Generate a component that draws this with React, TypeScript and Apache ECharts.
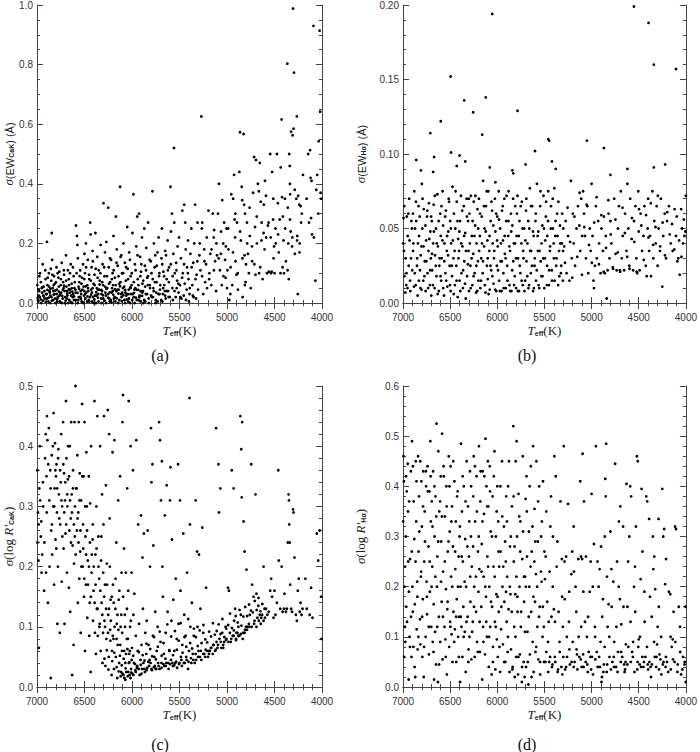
import React, { useEffect, useRef } from 'react';
import * as echarts from 'echarts';

// ---- data: [Teff (K), sigma] ----
const ewCaK: number[][] = [
[6990,0.01],[6985,0.045],[6975,0.09],[6970,0.02],[6960,0.07],[6955,0.0],[6945,0.035],[6940,0.13],[6930,0.055],[6920,0.015],[6910,0.08],[6905,0.03],
[6895,0.205],[6890,0.06],[6880,0.005],[6875,0.1],[6870,0.04],[6860,0.025],[6855,0.115],[6850,0.075],[6845,0.235],[6840,0.145],[6835,0.05],[6830,0.01],[6820,0.09],[6815,0.03],[6810,0.065],[6805,0.0],
[6795,0.12],[6790,0.045],[6780,0.02],[6775,0.085],[6765,0.105],[6760,0.005],[6750,0.06],[6745,0.035],[6740,0.135],[6730,0.015],[6725,0.07],[6715,0.095],[6710,0.04],[6705,0.0],
[6695,0.16],[6690,0.055],[6680,0.025],[6675,0.11],[6665,0.08],[6660,0.01],[6650,0.045],[6645,0.13],[6635,0.065],[6630,0.0],[6620,0.03],[6615,0.09],[6605,0.05],
[6590,0.26],[6580,0.225],[6575,0.195],[6570,0.15],[6560,0.02],[6555,0.07],[6545,0.11],[6540,0.04],[6530,0.005],[6525,0.085],[6515,0.13],[6510,0.055],[6505,0.025],[6500,0.165],
[6495,0.1],[6485,0.2],[6480,0.035],[6470,0.06],[6465,0.145],[6455,0.01],[6450,0.08],[6440,0.27],[6435,0.23],[6430,0.045],[6425,0.12],[6415,0.175],[6410,0.02],[6405,0.065],
[6395,0.095],[6385,0.235],[6380,0.0],[6370,0.05],[6365,0.155],[6355,0.03],[6350,0.11],[6340,0.075],[6330,0.195],[6325,0.015],[6315,0.04],[6310,0.13],[6300,0.335],[6305,0.06],
[6290,0.09],[6285,0.17],[6275,0.025],[6270,0.205],[6260,0.05],[6250,0.32],[6245,0.12],[6235,0.005],[6230,0.07],[6220,0.145],[6215,0.035],[6205,0.1],[6200,0.06],
[6195,0.225],[6190,0.015],[6180,0.085],[6170,0.29],[6165,0.04],[6160,0.18],[6150,0.125],[6145,0.0],[6135,0.065],[6125,0.39],[6120,0.155],[6115,0.03],[6105,0.1],
[6095,0.05],[6090,0.2],[6080,0.01],[6075,0.135],[6065,0.075],[6060,0.025],[6050,0.255],[6045,0.115],[6035,0.045],[6030,0.17],[6020,0.0],[6015,0.09],[6005,0.06],
[5995,0.235],[5985,0.365],[5980,0.02],[5970,0.13],[5965,0.05],[5955,0.19],[5945,0.29],[5940,0.08],[5930,0.01],[5925,0.3],[5915,0.155],[5910,0.04],[5905,0.105],
[5895,0.22],[5890,0.065],[5880,0.0],[5870,0.25],[5865,0.125],[5855,0.03],[5850,0.185],[5840,0.085],[5830,0.27],[5825,0.015],[5815,0.145],[5810,0.05],
[5795,0.1],[5785,0.375],[5780,0.02],[5770,0.2],[5760,0.07],[5755,0.16],[5745,0.035],[5740,0.125],[5730,0.005],[5720,0.22],[5715,0.09],[5705,0.045],
[5690,0.15],[5685,0.25],[5675,0.03],[5670,0.105],[5660,0.06],[5650,0.175],[5645,0.015],[5635,0.08],[5625,0.21],[5620,0.04],[5610,0.12],
[5595,0.39],[5590,0.24],[5580,0.3],[5575,0.05],[5565,0.165],[5558,0.52],[5555,0.27],[5550,0.1],[5540,0.02],[5535,0.135],[5525,0.075],[5520,0.19],[5510,0.035],[5505,0.22],
[5495,0.06],[5485,0.15],[5470,0.31],[5465,0.1],[5455,0.025],[5450,0.33],[5440,0.27],[5435,0.18],[5425,0.045],[5420,0.12],[5410,0.21],[5405,0.08],
[5395,0.03],[5385,0.165],[5375,0.25],[5365,0.06],[5355,0.135],[5345,0.2],[5335,0.33],[5325,0.015],[5320,0.095],[5310,0.27],[5305,0.045],
[5290,0.16],[5280,0.11],[5270,0.626],[5265,0.25],[5260,0.27],[5250,0.03],[5240,0.18],[5230,0.07],[5220,0.13],[5210,0.05],
[5195,0.31],[5185,0.1],[5175,0.165],[5165,0.06],[5150,0.3],[5140,0.22],[5135,0.245],[5125,0.14],[5115,0.04],[5105,0.16],
[5095,0.3],[5085,0.4],[5075,0.11],[5065,0.165],[5055,0.06],[5050,0.345],[5040,0.2],[5030,0.27],[5020,0.145],[5015,0.085],[5005,0.25],[5000,0.05],
[4995,0.11],[4985,0.18],[4975,0.01],[4965,0.03],[4955,0.365],[4945,0.06],[4935,0.35],[4925,0.43],[4920,0.28],[4915,0.22],[4910,0.14],[4900,0.095],
[4895,0.27],[4885,0.045],[4870,0.44],[4863,0.573],[4855,0.21],[4845,0.39],[4840,0.345],[4835,0.02],[4825,0.567],[4820,0.33],[4815,0.16],[4810,0.3],[4805,0.07],[4800,0.13],
[4790,0.27],[4780,0.165],[4770,0.1],[4760,0.225],[4750,0.05],[4735,0.14],[4725,0.37],[4715,0.49],[4705,0.255],[4700,0.095],
[4695,0.48],[4685,0.2],[4675,0.4],[4665,0.375],[4655,0.47],[4650,0.12],[4645,0.34],[4635,0.27],[4625,0.08],[4615,0.235],[4605,0.18],[4600,0.41],
[4590,0.36],[4580,0.1],[4570,0.26],[4560,0.105],[4545,0.5],[4540,0.22],[4530,0.105],[4525,0.44],[4515,0.28],[4510,0.15],[4505,0.19],[4500,0.1],
[4490,0.25],[4475,0.5],[4465,0.335],[4455,0.17],[4445,0.28],[4435,0.455],[4425,0.616],[4420,0.355],[4415,0.12],[4405,0.21],[4400,0.1],
[4390,0.35],[4380,0.14],[4365,0.803],[4360,0.32],[4355,0.2],[4350,0.08],[4345,0.5],[4340,0.46],[4338,0.4],[4335,0.365],[4330,0.24],[4325,0.575],[4315,0.19],[4310,0.563],[4305,0.988],[4300,0.585],[4295,0.773],
[4285,0.165],[4270,0.35],[4265,0.626],[4260,0.225],[4255,0.03],[4250,0.36],[4240,0.33],[4235,0.2],[4225,0.325],[4220,0.27],[4200,0.43],
[4145,0.5],[4125,0.513],[4120,0.42],[4115,0.285],[4110,0.41],[4105,0.23],[4090,0.93],[4070,0.075],[4050,0.43],[4035,0.543],[4025,0.914],[4020,0.642],[4015,0.37],[4008,0.35],
[6985,0.005],[6935,0.025],[6895,0.015],[6865,0.035],[6825,0.06],[6785,0.005],[6755,0.03],[6720,0.05],[6685,0.015],[6655,0.035],[6625,0.02],[6595,0.045],[6565,0.01],[6535,0.03],[6490,0.015],[6460,0.04],[6420,0.005],[6390,0.025],[6360,0.045],[6320,0.0],[6280,0.035],[6240,0.015],[6210,0.05],[6175,0.005],[6140,0.045],[6110,0.02],[6070,0.035],[6040,0.005],[6010,0.03],[5975,0.045],[5950,0.01],[5920,0.025],[5885,0.04],[5860,0.005],[5835,0.06],[5800,0.025],[5775,0.05],[5750,0.01],[5710,0.03],[5680,0.005],[5655,0.04],[5615,0.02],[5570,0.01],[5530,0.05],[5480,0.015],[5445,0.065],[5400,0.005],[5360,0.025]
];

const ewCaKMore: number[][] = [
[6997,0.06],[6982,0.025],[6968,0.1],[6951,0.05],[6938,0.008],[6922,0.04],[6913,0.11],[6898,0.03],[6887,0.085],[6873,0.055],[6862,0.0],[6848,0.02],[6838,0.095],[6827,0.04],[6812,0.015],[6801,0.07],[6792,0.03],[6783,0.1],[6771,0.055],[6763,0.025],[6748,0.08],[6737,0.0],[6728,0.045],[6717,0.11],[6703,0.02],[6693,0.075],[6683,0.04],[6672,0.0],[6662,0.06],[6653,0.1],[6641,0.025],[6633,0.05],[6622,0.12],[6611,0.01],[6602,0.07],[6593,0.035],[6583,0.1],[6572,0.0],[6563,0.055],[6551,0.09],[6543,0.02],[6532,0.065],[6522,0.045],[6512,0.0],[6502,0.08],[6493,0.03],[6483,0.12],[6472,0.005],[6463,0.05],[6452,0.095],[6442,0.02],[6433,0.075],[6422,0.035],[6412,0.14],[6402,0.0],[6393,0.06],[6382,0.115],[6373,0.025],[6362,0.085],[6352,0.005],[6343,0.045],[6333,0.1],[6322,0.03],[6313,0.07],[6302,0.015],[6293,0.12],[6283,0.055],[6272,0.0],[6263,0.09],[6252,0.03],[6243,0.065],[6232,0.15],[6223,0.01],[6212,0.08],[6202,0.04],[6193,0.11],[6183,0.02],[6172,0.06],[6163,0.135],[6152,0.045],[6142,0.09],[6133,0.01],[6122,0.07],[6112,0.16],[6103,0.035],[6093,0.1],[6082,0.055],[6073,0.0],[6062,0.12],[6053,0.03],[6042,0.08],[6033,0.015],[6022,0.145],[6012,0.05],[6002,0.1],[5993,0.03],[5982,0.07],[5972,0.0],[5962,0.11],[5953,0.045],[5942,0.16],[5932,0.06],[5922,0.02],[5912,0.09],[5902,0.13],[5892,0.035],[5882,0.075],[5872,0.01],[5862,0.055],[5852,0.11],[5842,0.03],[5832,0.09],[5822,0.0],[5812,0.06],[5802,0.14],[5792,0.02],[5782,0.08],[5772,0.04],[5762,0.12],[5752,0.0],[5742,0.07],[5732,0.17],[5722,0.03],[5712,0.1],[5702,0.06],[5692,0.01],[5682,0.13],[5672,0.05],[5662,0.09],[5652,0.025],[5642,0.16],[5632,0.04],[5622,0.11],[5612,0.07],[5602,0.02],[5592,0.13],[5572,0.09],[5552,0.04],[5532,0.11],[5512,0.065],[5492,0.02],[5472,0.085],[5452,0.13],[5432,0.01],[5412,0.1],[5392,0.05],[5372,0.12],[5352,0.02],[5332,0.08],[5312,0.14],
[5287,0.2],[5262,0.09],[5238,0.14],[5213,0.22],[5188,0.08],[5163,0.18],[5138,0.11],[5112,0.2],[5088,0.15],[5062,0.24],[5037,0.09],[5012,0.19],[4988,0.25],[4962,0.12],[4937,0.17],[4912,0.3],[4887,0.1],[4862,0.24],[4837,0.15],[4812,0.06],[4787,0.2],[4762,0.32],[4737,0.19],[4712,0.13],[4687,0.29],[4662,0.1],[4637,0.21],[4612,0.33],[4587,0.22],[4562,0.27],[4537,0.1],[4512,0.35],[4487,0.2],[4462,0.23],[4437,0.1],[4412,0.29],[4387,0.25],[4362,0.11],[4337,0.28],[4312,0.22],[4287,0.38],[4262,0.21],[4237,0.17],[4212,0.3],[4162,0.35],[4137,0.27],[4085,0.22],[4060,0.38],[4040,0.3]
];

const ewCaKLow: number[][] = [
[6993,0.018],[6977,0.04],[6961,0.012],[6944,0.052],[6927,0.022],[6909,0.004],[6891,0.044],[6877,0.018],[6858,0.048],[6843,0.008],[6824,0.028],[6806,0.042],[6788,0.014],[6769,0.038],[6752,0.002],[6734,0.024],[6716,0.058],[6699,0.008],[6681,0.032],[6664,0.046],[6647,0.004],[6628,0.038],[6609,0.022],[6591,0.01],[6573,0.034],[6557,0.048],[6538,0.014],[6521,0.002],[6503,0.04],[6487,0.056],[6468,0.022],[6449,0.004],[6431,0.028],[6414,0.05],[6396,0.012],[6377,0.036],[6358,0.018],[6341,0.062],[6323,0.044],[6306,0.026],[6288,0.008],[6269,0.048],[6252,0.018],[6233,0.036],[6216,0.002],[6198,0.028],[6179,0.046],[6161,0.016],[6143,0.032],[6126,0.056],[6108,0.006],[6091,0.026],[6072,0.044],[6056,0.012],[6037,0.03],[6018,0.052],[5998,0.01],[5978,0.034],[5958,0.018],[5936,0.044],[5914,0.006],[5893,0.024]
];

const ewHa: number[][] = [
[4551,0.199],[6053,0.194],[4396,0.188],[4340,0.160],[4105,0.157],[6495,0.152],[6123,0.138],[6351,0.136],[6256,0.128],[6600,0.122],[5785,0.129],[6710,0.114],[6160,0.113],[5460,0.11],[5450,0.109],[5050,0.109],[4870,0.104],[5600,0.102],[6490,0.101],[6400,0.099],[6670,0.098],[6860,0.096],[6340,0.095],[5420,0.095],[4340,0.091],[5700,0.093],[4220,0.093],[6430,0.092],[6080,0.091],[5380,0.09],[4620,0.09],[6810,0.089],[5840,0.089],[6680,0.088],[5830,0.087],[4800,0.086],[6020,0.081],
[6995,0.057],[6990,0.035],[6985,0.018],[6975,0.007],[6965,0.012],[6960,0.058],[6950,0.045],[6940,0.025],[6935,0.07],[6925,0.015],[6915,0.03],[6905,0.05],
[6895,0.06],[6890,0.04],[6880,0.075],[6875,0.02],[6865,0.012],[6860,0.055],[6850,0.03],[6845,0.005],[6835,0.065],[6830,0.045],[6820,0.022],[6815,0.01],[6805,0.038],[6800,0.08],
[6795,0.05],[6785,0.015],[6780,0.063],[6770,0.028],[6760,0.008],[6755,0.042],[6745,0.058],[6740,0.02],[6730,0.035],[6725,0.067],[6715,0.012],[6710,0.048],[6705,0.03],[6700,0.005],
[6695,0.055],[6690,0.022],[6680,0.04],[6675,0.066],[6665,0.01],[6660,0.032],[6650,0.05],[6645,0.018],[6635,0.073],[6630,0.038],[6620,0.008],[6615,0.025],[6605,0.06],[6600,0.045],
[6595,0.015],[6590,0.03],[6580,0.075],[6575,0.052],[6565,0.005],[6560,0.04],[6550,0.02],[6545,0.062],[6535,0.035],[6530,0.011],[6520,0.048],[6515,0.07],[6505,0.025],[6500,0.055],
[6495,0.008],[6490,0.04],[6480,0.018],[6475,0.078],[6465,0.03],[6460,0.06],[6450,0.012],[6445,0.05],[6435,0.025],[6430,0.068],[6420,0.004],[6415,0.043],[6405,0.035],[6400,0.015],
[6395,0.055],[6385,0.072],[6380,0.02],[6370,0.038],[6365,0.01],[6355,0.065],[6350,0.028],[6340,0.047],[6335,0.003],[6325,0.07],[6320,0.018],[6310,0.055],[6305,0.035],[6300,0.008],
[6295,0.06],[6285,0.025],[6280,0.072],[6270,0.045],[6265,0.012],[6255,0.033],[6250,0.068],[6240,0.02],[6235,0.052],[6225,0.007],[6220,0.04],[6210,0.063],[6205,0.028],[6200,0.015],
[6195,0.07],[6185,0.045],[6180,0.01],[6170,0.03],[6165,0.058],[6155,0.02],[6150,0.082],[6140,0.038],[6135,0.05],[6125,0.007],[6120,0.065],[6110,0.025],[6105,0.042],[6100,0.016],
[6095,0.075],[6085,0.035],[6080,0.009],[6070,0.055],[6065,0.022],[6055,0.062],[6050,0.04],[6040,0.013],[6035,0.03],[6025,0.07],[6020,0.048],[6010,0.008],[6005,0.025],[6000,0.058],
[5995,0.038],[5985,0.075],[5980,0.015],[5970,0.05],[5965,0.028],[5955,0.008],[5950,0.062],[5940,0.042],[5935,0.02],[5925,0.07],[5920,0.033],[5910,0.01],[5905,0.055],
[5895,0.025],[5885,0.045],[5880,0.075],[5870,0.012],[5865,0.035],[5855,0.06],[5850,0.008],[5840,0.052],[5830,0.028],[5825,0.04],[5815,0.018],[5810,0.065],[5800,0.01],
[5795,0.045],[5785,0.072],[5780,0.03],[5770,0.008],[5765,0.055],[5755,0.02],[5745,0.04],[5740,0.068],[5730,0.012],[5725,0.035],[5715,0.05],[5705,0.015],
[5695,0.062],[5690,0.028],[5680,0.04],[5670,0.01],[5660,0.05],[5655,0.077],[5645,0.02],[5640,0.035],[5630,0.065],[5620,0.008],[5615,0.045],[5605,0.025],
[5595,0.055],[5590,0.015],[5580,0.08],[5570,0.035],[5565,0.048],[5555,0.01],[5545,0.065],[5540,0.028],[5530,0.04],[5520,0.018],[5510,0.072],[5505,0.05],
[5495,0.03],[5485,0.058],[5475,0.012],[5470,0.045],[5460,0.075],[5450,0.022],[5440,0.038],[5430,0.065],[5420,0.015],[5410,0.05],[5400,0.03],
[5395,0.077],[5385,0.045],[5375,0.025],[5365,0.06],[5355,0.012],[5345,0.035],[5335,0.052],[5325,0.02],[5315,0.04],[5305,0.015],[5300,0.05],
[5290,0.038],[5275,0.055],[5265,0.02],[5250,0.045],[5235,0.015],[5220,0.082],[5210,0.03],[5200,0.06],
[5190,0.04],[5175,0.025],[5160,0.05],[5145,0.065],[5130,0.052],[5120,0.035],[5110,0.07],[5100,0.045],
[5090,0.075],[5080,0.06],[5070,0.045],[5060,0.03],[5045,0.065],[5035,0.02],[5020,0.05],[5010,0.035],[5000,0.08],
[4990,0.045],[4980,0.015],[4975,0.01],[4965,0.025],[4955,0.065],[4945,0.03],[4930,0.055],[4920,0.04],[4905,0.02],
[4895,0.05],[4880,0.035],[4870,0.058],[4860,0.02],[4850,0.045],[4840,0.003],[4830,0.022],[4820,0.06],[4810,0.03],[4800,0.055],
[4790,0.04],[4775,0.024],[4760,0.07],[4745,0.033],[4735,0.022],[4720,0.05],[4710,0.065],[4700,0.022],
[4690,0.075],[4680,0.03],[4670,0.045],[4655,0.022],[4645,0.06],[4630,0.035],[4620,0.08],[4610,0.05],[4600,0.025],
[4590,0.07],[4575,0.043],[4560,0.022],[4550,0.055],[4535,0.065],[4525,0.03],[4515,0.02],[4505,0.075],[4500,0.048],
[4490,0.022],[4480,0.06],[4465,0.035],[4450,0.045],[4440,0.065],[4425,0.025],[4415,0.018],[4405,0.05],[4400,0.07],
[4390,0.035],[4380,0.045],[4370,0.018],[4355,0.075],[4345,0.03],[4335,0.055],[4320,0.04],[4310,0.065],[4300,0.025],
[4290,0.05],[4275,0.035],[4265,0.07],[4250,0.011],[4240,0.045],[4225,0.06],[4210,0.03],[4200,0.055],
[4180,0.065],[4160,0.04],[4140,0.035],[4120,0.063],[4105,0.045],[4090,0.028],[4080,0.03],[4065,0.019],[4050,0.063],[4040,0.05],[4030,0.04],[4015,0.045],[4005,0.048],[4000,0.072]
];

const ewHaMore: number[][] = [
[6998,0.04],[6987,0.065],[6972,0.03],[6963,0.02],[6952,0.01],[6943,0.06],[6931,0.042],[6922,0.008],[6911,0.055],[6902,0.022],[6893,0.035],[6884,0.011],[6872,0.05],[6863,0.068],[6852,0.025],[6841,0.04],[6832,0.015],[6823,0.058],[6812,0.032],[6803,0.009],[6793,0.07],[6782,0.038],[6773,0.018],[6762,0.052],[6752,0.028],[6742,0.062],[6733,0.01],[6722,0.043],[6712,0.022],[6702,0.058],[6692,0.033],[6683,0.012],[6672,0.048],[6662,0.072],[6652,0.025],[6642,0.04],[6633,0.006],[6622,0.055],[6612,0.03],[6602,0.018],[6592,0.065],[6582,0.042],[6573,0.01],[6562,0.028],[6553,0.058],[6542,0.015],[6532,0.045],[6522,0.032],[6512,0.068],[6502,0.012],[6492,0.05],[6482,0.025],[6472,0.042],[6462,0.006],[6452,0.035],[6442,0.075],[6432,0.015],[6422,0.055],[6412,0.03],[6402,0.048],[6392,0.008],[6382,0.04],[6372,0.062],[6362,0.022],[6352,0.045],[6342,0.013],[6332,0.035],[6322,0.058],[6312,0.026],[6302,0.07],[6292,0.04],[6282,0.01],[6272,0.03],[6262,0.055],[6252,0.018],[6242,0.045],[6232,0.072],[6222,0.025],[6212,0.008],[6202,0.05],[6192,0.035],[6182,0.06],[6172,0.015],[6162,0.04],[6152,0.028],[6142,0.065],[6132,0.012],[6122,0.048],[6112,0.075],[6102,0.03],[6092,0.006],[6082,0.045],[6072,0.025],[6062,0.068],[6052,0.018],[6042,0.052],[6032,0.035],[6022,0.009],[6012,0.06],[6002,0.042],[5992,0.022],[5982,0.056],[5972,0.008],[5962,0.04],[5952,0.028],[5942,0.065],[5932,0.01],[5922,0.045],[5912,0.03],[5902,0.072],[5892,0.015],[5882,0.055],[5872,0.038],[5862,0.008],[5852,0.048],[5842,0.022],[5832,0.07],[5822,0.012],[5812,0.04],[5802,0.03],[5792,0.06],[5782,0.008],[5772,0.045],[5762,0.025],[5752,0.065],[5742,0.015],[5732,0.05],[5722,0.03],[5712,0.008],[5702,0.042],[5692,0.07],[5682,0.018],[5672,0.055],[5662,0.012],[5652,0.035],[5642,0.065],[5632,0.025],[5622,0.048],[5612,0.01],[5602,0.03],[5592,0.06],[5582,0.022],[5572,0.045],[5562,0.012],[5552,0.035],[5542,0.075],[5532,0.018],[5522,0.052],[5512,0.03],[5502,0.01],[5492,0.042],[5482,0.068],[5472,0.025],[5462,0.055],[5452,0.012],[5442,0.035],[5432,0.05],[5422,0.022],[5412,0.07],[5402,0.04],[5392,0.015],[5382,0.055],[5372,0.03],[5362,0.045],[5352,0.068],[5342,0.018],[5332,0.04],[5322,0.025],[5312,0.06],[5302,0.035],
[5282,0.027],[5255,0.064],[5228,0.041],[5205,0.017],[5182,0.058],[5152,0.031],[5127,0.074],[5102,0.019],[5077,0.051],[5052,0.066],[5027,0.039],[4997,0.027],[4972,0.054],[4947,0.071],[4922,0.026],[4897,0.059],[4872,0.021],[4847,0.037],[4822,0.069],[4797,0.046],[4772,0.023],[4747,0.056],[4722,0.034],[4697,0.021],[4672,0.064],[4647,0.047],[4622,0.031],[4597,0.023],[4572,0.057],[4547,0.041],[4522,0.021],[4497,0.063],[4472,0.052],[4447,0.029],[4422,0.059],[4397,0.044],[4372,0.067],[4347,0.039],[4322,0.051],[4297,0.072],[4272,0.038],[4247,0.054],[4222,0.032],[4197,0.061],[4172,0.046],[4147,0.053],[4122,0.036],[4097,0.058],[4072,0.042],[4047,0.031],[4022,0.056]
];

const logRCaK: number[][] = [
[6995,0.24],[6990,0.29],[6985,0.21],[6980,0.065],[6975,0.33],[6970,0.4],[6960,0.25],[6955,0.275],[6945,0.22],[6935,0.3],[6925,0.16],[6915,0.38],[6905,0.19],[6900,0.35],
[6895,0.45],[6890,0.41],[6885,0.14],[6875,0.43],[6870,0.31],[6860,0.36],[6855,0.015],[6850,0.26],[6845,0.385],[6840,0.22],[6830,0.3],[6825,0.455],[6820,0.17],[6815,0.33],[6810,0.405],[6805,0.245],[6800,0.35],
[6795,0.37],[6790,0.29],[6785,0.105],[6780,0.2],[6775,0.395],[6770,0.32],[6760,0.09],[6755,0.27],[6750,0.34],[6745,0.42],[6740,0.175],[6735,0.3],[6725,0.44],[6720,0.23],[6715,0.355],[6710,0.105],[6705,0.31],[6700,0.255],
[6695,0.475],[6690,0.38],[6685,0.19],[6680,0.3],[6675,0.345],[6665,0.165],[6660,0.26],[6655,0.4],[6650,0.125],[6645,0.28],[6640,0.44],[6635,0.32],[6630,0.02],[6625,0.235],[6620,0.36],[6615,0.07],[6610,0.205],[6605,0.44],[6600,0.3],
[6595,0.5],[6590,0.33],[6580,0.26],[6575,0.385],[6570,0.14],[6565,0.29],[6560,0.44],[6555,0.18],[6550,0.355],[6545,0.225],[6540,0.09],[6535,0.31],[6525,0.47],[6520,0.2],[6515,0.27],[6510,0.35],[6505,0.15],[6500,0.44],
[6495,0.06],[6490,0.25],[6485,0.17],[6480,0.39],[6475,0.3],[6470,0.115],[6465,0.21],[6455,0.35],[6450,0.085],[6445,0.14],[6440,0.305],[6435,0.025],[6430,0.4],[6425,0.19],[6415,0.245],[6410,0.11],[6405,0.16],
[6395,0.475],[6390,0.09],[6385,0.22],[6380,0.055],[6375,0.3],[6370,0.13],[6365,0.45],[6360,0.085],[6355,0.25],[6345,0.18],[6340,0.105],[6335,0.4],[6330,0.06],[6325,0.21],[6320,0.14],[6315,0.32],[6310,0.04],[6305,0.09],[6300,0.27],
[6295,0.45],[6290,0.11],[6285,0.17],[6280,0.035],[6275,0.335],[6270,0.08],[6265,0.205],[6255,0.46],[6250,0.12],[6245,0.05],[6240,0.42],[6235,0.28],[6230,0.095],[6225,0.145],[6215,0.02],[6210,0.06],[6205,0.39],[6200,0.17],
[6195,0.08],[6190,0.03],[6185,0.41],[6175,0.13],[6170,0.05],[6165,0.24],[6160,0.105],[6155,0.015],[6150,0.07],[6145,0.31],[6140,0.145],[6135,0.04],[6125,0.35],[6120,0.1],[6115,0.025],[6110,0.19],[6105,0.06],[6100,0.44],
[6095,0.485],[6090,0.02],[6085,0.23],[6080,0.015],[6075,0.12],[6070,0.04],[6065,0.19],[6060,0.025],[6055,0.08],[6050,0.33],[6045,0.018],[6040,0.16],[6035,0.475],[6030,0.055],[6025,0.02],[6020,0.1],[6015,0.4],[6010,0.03],[6005,0.19],[6000,0.065],
[5995,0.022],[5990,0.36],[5985,0.12],[5980,0.04],[5975,0.155],[5965,0.028],[5960,0.085],[5955,0.41],[5945,0.035],[5940,0.06],[5935,0.27],[5925,0.105],[5920,0.02],[5910,0.045],[5905,0.285],[5900,0.07],
[5895,0.03],[5890,0.215],[5885,0.13],[5880,0.04],[5875,0.255],[5865,0.025],[5860,0.09],[5850,0.055],[5845,0.11],[5840,0.032],[5835,0.26],[5825,0.07],[5815,0.045],[5810,0.2],[5805,0.04],[5800,0.43],
[5795,0.34],[5790,0.028],[5785,0.37],[5780,0.085],[5775,0.235],[5765,0.05],[5760,0.035],[5755,0.125],[5745,0.03],[5740,0.06],[5730,0.1],[5725,0.04],[5715,0.44],[5710,0.03],[5705,0.41],[5700,0.075],
[5695,0.31],[5690,0.04],[5685,0.375],[5680,0.2],[5675,0.15],[5665,0.055],[5660,0.035],[5655,0.285],[5645,0.09],[5640,0.04],[5635,0.335],[5625,0.125],[5615,0.03],[5605,0.06],[5600,0.31],
[5595,0.365],[5590,0.045],[5585,0.11],[5580,0.245],[5570,0.035],[5565,0.145],[5555,0.06],[5545,0.04],[5540,0.18],[5530,0.08],[5525,0.032],[5515,0.37],[5510,0.105],[5500,0.04],
[5495,0.31],[5490,0.16],[5485,0.05],[5475,0.035],[5470,0.07],[5460,0.255],[5450,0.12],[5445,0.04],[5435,0.085],[5425,0.045],[5420,0.19],[5410,0.03],[5400,0.06],
[5395,0.48],[5390,0.27],[5385,0.1],[5375,0.04],[5370,0.14],[5360,0.055],[5350,0.085],[5340,0.04],[5330,0.31],[5325,0.045],[5315,0.225],[5310,0.1],[5300,0.06],
[5295,0.22],[5285,0.05],[5280,0.13],[5270,0.045],[5260,0.265],[5250,0.09],[5240,0.055],[5230,0.05],[5220,0.165],[5210,0.06],[5200,0.05],
[5190,0.055],[5180,0.06],[5165,0.065],[5150,0.055],[5140,0.07],[5125,0.06],[5115,0.43],[5110,0.075],[5100,0.065],
[5090,0.37],[5085,0.29],[5080,0.08],[5070,0.33],[5060,0.065],[5050,0.09],[5040,0.07],[5030,0.075],[5015,0.1],[5005,0.08],
[4990,0.165],[4980,0.16],[4970,0.09],[4960,0.075],[4950,0.36],[4940,0.085],[4930,0.33],[4925,0.11],[4915,0.13],[4905,0.08],[4900,0.09],
[4890,0.09],[4880,0.1],[4870,0.085],[4860,0.45],[4855,0.12],[4850,0.395],[4845,0.315],[4840,0.44],[4830,0.09],[4825,0.275],[4815,0.225],[4810,0.095],[4800,0.1],
[4795,0.195],[4785,0.1],[4770,0.105],[4760,0.12],[4745,0.37],[4735,0.17],[4720,0.15],[4710,0.11],[4700,0.32],
[4690,0.155],[4680,0.115],[4670,0.135],[4655,0.12],[4645,0.105],[4630,0.12],[4615,0.2],[4605,0.13],[4600,0.115],
[4590,0.13],[4575,0.12],[4560,0.125],[4545,0.16],[4535,0.18],[4525,0.15],[4510,0.115],[4500,0.16],
[4490,0.12],[4475,0.14],[4460,0.36],[4455,0.21],[4440,0.13],[4425,0.2],[4415,0.125],[4400,0.13],
[4395,0.155],[4380,0.125],[4370,0.13],[4360,0.24],[4352,0.32],[4348,0.31],[4345,0.27],[4340,0.24],[4335,0.17],[4325,0.13],[4315,0.125],[4305,0.295],[4300,0.29],
[4290,0.215],[4275,0.12],[4265,0.11],[4255,0.16],[4245,0.18],[4235,0.125],[4225,0.14],[4215,0.12],[4205,0.13],
[4175,0.18],[4160,0.13],[4130,0.12],[4115,0.165],[4100,0.115],[4055,0.255],[4040,0.21],[4025,0.26],[4010,0.15],[4005,0.08],
[6120,0.018],[6100,0.022],[6070,0.012],[6040,0.025],[6015,0.015],[5985,0.02],[5960,0.025],[5930,0.03],[5900,0.022],[5870,0.03],[5845,0.028],[5820,0.035],[5795,0.03],[5770,0.033],[5750,0.03],[5720,0.035],[5690,0.032],[5670,0.038],[5645,0.035],[5620,0.04],[5600,0.038],[5575,0.04],[5555,0.036],[5535,0.042],[5505,0.038],[5480,0.045],[5455,0.04],[5430,0.05],[5405,0.042],[5380,0.048],[5355,0.045],[5330,0.055],[5305,0.05],[5275,0.06],[5250,0.055],[5225,0.062],[5195,0.06],[5170,0.065],[5145,0.07],[5120,0.062],[5095,0.07],[5065,0.075],[5040,0.065],[5010,0.078],[4985,0.075],[4955,0.08],[4930,0.085],[4905,0.078],[4880,0.085],[4855,0.088],[4835,0.08],[4815,0.09],[4790,0.095],[4765,0.1],[4740,0.1],[4715,0.105],[4690,0.1],[4665,0.11],[4640,0.115],[4615,0.11]
];

const logRCaKMore: number[][] = [
[6997,0.36],[6983,0.27],[6967,0.31],[6952,0.19],[6938,0.34],[6922,0.24],[6908,0.42],[6897,0.29],[6882,0.37],[6868,0.2],[6857,0.33],[6843,0.27],[6833,0.4],[6818,0.3],[6807,0.36],[6797,0.23],[6787,0.33],[6778,0.38],[6766,0.28],[6757,0.36],[6743,0.31],[6733,0.25],[6723,0.37],[6713,0.29],[6702,0.34],[6692,0.27],[6682,0.32],[6672,0.4],[6662,0.35],[6652,0.31],[6642,0.24],[6632,0.29],[6622,0.33],[6612,0.27],[6602,0.25],[6593,0.22],[6583,0.33],[6573,0.28],[6563,0.24],[6553,0.31],[6543,0.26],[6533,0.2],[6523,0.35],[6513,0.23],[6503,0.18],[6493,0.3],[6483,0.22],[6473,0.26],[6463,0.17],[6453,0.2],[6443,0.24],[6433,0.15],[6423,0.22],[6413,0.27],[6403,0.2],[6393,0.14],[6383,0.17],[6373,0.23],[6363,0.13],[6353,0.2],[6343,0.1],[6333,0.16],[6323,0.25],[6313,0.12],[6303,0.19],[6293,0.15],[6283,0.1],[6273,0.13],[6263,0.17],[6253,0.09],[6243,0.13],[6233,0.2],[6223,0.11],[6213,0.15],[6203,0.085],[6193,0.14],[6183,0.1],[6173,0.18],[6163,0.08],[6153,0.12],[6143,0.095],[6133,0.16],[6123,0.07],[6113,0.12],[6103,0.09],[6093,0.15],[6083,0.06],[6073,0.1],[6063,0.055],[6053,0.13],[6043,0.08],[6033,0.04],[6023,0.06],[6013,0.11],[6003,0.045],
[6290,0.047],[6265,0.061],[6248,0.029],[6227,0.077],[6208,0.043],[6186,0.057],[6162,0.033],[6141,0.026],[6127,0.052],[6108,0.036],[6088,0.047],[6067,0.031],[6048,0.063],[6027,0.041],[6008,0.024],[5988,0.052],[5968,0.038],[5948,0.032],[5928,0.058],[5908,0.037],[5888,0.053],[5868,0.044],[5848,0.072],[5828,0.042],[5808,0.063],[5788,0.051],[5768,0.083],[5748,0.046],[5728,0.067],[5708,0.092],[5688,0.052],[5668,0.073],[5648,0.047],[5628,0.104],[5608,0.061],[5588,0.084],[5568,0.053],[5548,0.093],[5528,0.062],[5508,0.077],[5488,0.106],[5468,0.057],[5448,0.083],[5428,0.067],[5408,0.113],[5388,0.073],[5368,0.064],[5348,0.097],[5328,0.083],[5308,0.068],[5288,0.094],[5268,0.073],[5248,0.103],[5228,0.079],[5208,0.074],[5188,0.092],[5168,0.084],[5148,0.106],[5128,0.087],[5108,0.093],[5088,0.104],[5068,0.088],[5048,0.113],[5028,0.083],[5008,0.097],[4988,0.103],[4968,0.122],[4948,0.098],[4928,0.094],[4908,0.118],[4888,0.107],[4868,0.128],[4848,0.102],[4828,0.117],[4808,0.133],[4788,0.118],[4768,0.137],[4748,0.127],[4728,0.124],[4708,0.143],[4688,0.128],[4668,0.148],[4648,0.126],[4628,0.138]
];

const logRHa: number[][] = [
[6995,0.46],[6990,0.41],[6985,0.2],[6980,0.12],[6975,0.09],[6970,0.3],[6965,0.16],[6960,0.39],[6950,0.445],[6945,0.25],[6940,0.015],[6935,0.37],[6930,0.1],[6925,0.255],[6915,0.14],[6910,0.06],[6905,0.49],[6900,0.2],
[6895,0.44],[6890,0.08],[6880,0.295],[6875,0.165],[6870,0.02],[6865,0.45],[6860,0.33],[6855,0.115],[6850,0.21],[6845,0.075],[6840,0.46],[6835,0.27],[6830,0.38],[6820,0.135],[6815,0.085],[6810,0.22],[6805,0.41],[6800,0.32],
[6795,0.06],[6790,0.175],[6785,0.43],[6780,0.02],[6775,0.25],[6770,0.35],[6760,0.1],[6755,0.4],[6750,0.21],[6745,0.145],[6740,0.44],[6730,0.28],[6725,0.065],[6720,0.39],[6715,0.19],[6710,0.49],[6705,0.33],[6700,0.12],
[6695,0.37],[6690,0.24],[6685,0.09],[6680,0.43],[6675,0.165],[6670,0.015],[6665,0.3],[6660,0.11],[6655,0.38],[6650,0.045],[6645,0.525],[6640,0.2],[6635,0.26],[6630,0.01],[6625,0.47],[6620,0.14],[6615,0.35],[6605,0.09],[6600,0.42],
[6595,0.29],[6590,0.17],[6585,0.505],[6580,0.055],[6575,0.23],[6570,0.44],[6560,0.12],[6555,0.34],[6550,0.095],[6545,0.195],[6540,0.4],[6535,0.025],[6530,0.155],[6525,0.27],[6515,0.46],[6510,0.08],[6505,0.31],[6500,0.13],
[6495,0.44],[6490,0.22],[6485,0.105],[6480,0.36],[6475,0.05],[6470,0.28],[6465,0.15],[6455,0.41],[6450,0.115],[6445,0.235],[6440,0.33],[6435,0.05],[6430,0.175],[6420,0.39],[6415,0.1],[6410,0.26],[6405,0.14],[6400,0.3],
[6395,0.01],[6390,0.2],[6385,0.485],[6380,0.12],[6375,0.35],[6370,0.06],[6365,0.25],[6360,0.16],[6355,0.4],[6345,0.11],[6340,0.295],[6335,0.03],[6330,0.2],[6325,0.45],[6315,0.14],[6310,0.36],[6305,0.075],[6300,0.26],
[6295,0.1],[6290,0.43],[6285,0.17],[6280,0.3],[6275,0.055],[6270,0.24],[6260,0.13],[6255,0.38],[6250,0.46],[6245,0.2],[6240,0.06],[6235,0.33],[6225,0.15],[6220,0.42],[6215,0.09],[6205,0.27],[6200,0.19],
[6195,0.48],[6190,0.235],[6185,0.07],[6180,0.37],[6170,0.16],[6165,0.285],[6160,0.015],[6155,0.43],[6150,0.12],[6145,0.22],[6140,0.345],[6130,0.065],[6125,0.495],[6120,0.18],[6115,0.4],[6110,0.1],[6105,0.26],[6100,0.45],
[6095,0.36],[6090,0.04],[6085,0.2],[6080,0.44],[6075,0.12],[6070,0.31],[6060,0.025],[6055,0.16],[6050,0.38],[6045,0.08],[6040,0.24],[6030,0.47],[6025,0.13],[6020,0.035],[6015,0.3],[6010,0.185],[6005,0.095],[6000,0.4],
[5995,0.06],[5990,0.33],[5985,0.15],[5980,0.24],[5970,0.03],[5965,0.27],[5960,0.115],[5950,0.45],[5945,0.2],[5940,0.085],[5930,0.32],[5925,0.17],[5915,0.05],[5910,0.25],[5905,0.38],[5900,0.13],
[5895,0.22],[5890,0.07],[5885,0.4],[5880,0.155],[5870,0.03],[5865,0.28],[5860,0.185],[5855,0.075],[5845,0.36],[5840,0.035],[5830,0.52],[5825,0.25],[5820,0.12],[5815,0.02],[5810,0.185],[5805,0.45],[5800,0.06],
[5795,0.49],[5790,0.3],[5785,0.15],[5780,0.025],[5775,0.385],[5765,0.2],[5760,0.065],[5755,0.33],[5750,0.12],[5740,0.01],[5735,0.255],[5730,0.46],[5720,0.05],[5715,0.17],[5710,0.02],[5705,0.22],[5700,0.375],
[5695,0.04],[5690,0.42],[5685,0.26],[5680,0.11],[5670,0.005],[5665,0.31],[5660,0.2],[5655,0.065],[5645,0.44],[5640,0.15],[5635,0.27],[5625,0.09],[5620,0.48],[5615,0.03],[5605,0.355],[5600,0.17],
[5595,0.07],[5590,0.225],[5585,0.45],[5575,0.12],[5570,0.29],[5565,0.055],[5555,0.4],[5550,0.16],[5545,0.025],[5535,0.3],[5530,0.21],[5520,0.1],[5515,0.41],[5505,0.05],[5500,0.27],
[5495,0.215],[5490,0.05],[5480,0.35],[5470,0.17],[5460,0.03],[5455,0.13],[5445,0.23],[5440,0.06],[5430,0.38],[5425,0.14],[5415,0.045],[5410,0.3],[5400,0.155],
[5395,0.46],[5385,0.05],[5380,0.42],[5370,0.24],[5360,0.03],[5350,0.15],[5340,0.09],[5330,0.37],[5320,0.04],[5315,0.255],[5305,0.12],[5300,0.06],
[5295,0.48],[5285,0.175],[5280,0.035],[5270,0.26],[5260,0.06],[5250,0.365],[5240,0.13],[5230,0.045],[5215,0.225],[5205,0.27],[5200,0.09],
[5190,0.32],[5180,0.05],[5170,0.2],[5160,0.075],[5150,0.035],[5140,0.255],[5130,0.06],[5120,0.41],[5110,0.12],[5105,0.04],[5100,0.255],
[5095,0.465],[5090,0.065],[5080,0.37],[5070,0.13],[5060,0.26],[5050,0.1],[5040,0.03],[5030,0.07],[5020,0.19],[5010,0.25],[5000,0.385],
[4995,0.06],[4985,0.025],[4975,0.285],[4965,0.12],[4955,0.48],[4945,0.07],[4935,0.04],[4925,0.2],[4915,0.235],[4905,0.09],[4900,0.28],
[4895,0.01],[4890,0.02],[4880,0.175],[4870,0.045],[4860,0.3],[4855,0.415],[4850,0.38],[4845,0.485],[4840,0.03],[4830,0.12],[4820,0.165],[4810,0.06],[4800,0.31],
[4790,0.235],[4780,0.05],[4770,0.21],[4760,0.09],[4750,0.445],[4740,0.04],[4730,0.25],[4720,0.07],[4710,0.33],[4700,0.175],
[4695,0.36],[4685,0.125],[4675,0.06],[4665,0.32],[4655,0.045],[4645,0.035],[4640,0.05],[4630,0.405],[4620,0.16],[4610,0.08],[4600,0.3],
[4590,0.4],[4580,0.38],[4570,0.07],[4560,0.09],[4550,0.2],[4540,0.24],[4530,0.32],[4520,0.46],[4510,0.45],[4505,0.08],[4500,0.095],
[4490,0.045],[4480,0.215],[4470,0.395],[4460,0.27],[4450,0.04],[4440,0.19],[4430,0.06],[4420,0.38],[4410,0.37],[4400,0.035],
[4390,0.335],[4380,0.18],[4370,0.02],[4360,0.045],[4350,0.3],[4345,0.235],[4335,0.26],[4325,0.195],[4315,0.04],[4305,0.085],[4300,0.12],
[4290,0.335],[4280,0.065],[4270,0.055],[4260,0.025],[4250,0.395],[4240,0.3],[4230,0.315],[4220,0.205],[4210,0.255],[4200,0.05],
[4180,0.19],[4165,0.185],[4150,0.08],[4140,0.095],[4130,0.15],[4115,0.32],[4105,0.315],[4090,0.03],[4075,0.16],[4060,0.07],[4050,0.025],[4030,0.06],[4015,0.045],[4005,0.16],[4002,0.01],
[5480,0.07],[5450,0.05],[5420,0.04],[5390,0.06],[5355,0.035],[5310,0.025],[5270,0.04],[5235,0.075],[5190,0.04],[5155,0.065],[5115,0.055],[5085,0.04],[5045,0.045],[5005,0.035],[4960,0.055],[4920,0.06],[4875,0.03],[4835,0.045],[4795,0.035],[4765,0.06],[4725,0.03],[4690,0.05],[4650,0.03],[4620,0.045],[4585,0.05],[4545,0.03],[4515,0.035],[4475,0.04],[4445,0.05],[4405,0.045],[4375,0.04],[4330,0.06],[4285,0.035],[4245,0.045],[4215,0.04],[4160,0.035],[4120,0.05]
];

const logRHaMore: number[][] = [
[6998,0.33],[6988,0.06],[6978,0.24],[6968,0.42],[6957,0.13],[6947,0.35],[6937,0.19],[6926,0.08],[6917,0.43],[6907,0.27],[6897,0.15],[6887,0.37],[6877,0.04],[6867,0.25],[6857,0.41],[6847,0.18],[6837,0.1],[6827,0.31],[6817,0.45],[6807,0.23],[6797,0.14],[6787,0.36],[6777,0.08],[6767,0.29],[6757,0.43],[6747,0.18],[6737,0.39],[6727,0.12],[6717,0.25],[6707,0.42],[6697,0.2],[6687,0.32],[6677,0.07],[6667,0.4],[6657,0.22],[6647,0.34],[6637,0.12],[6627,0.29],[6617,0.045],[6607,0.37],[6597,0.21],[6587,0.34],[6577,0.14],[6567,0.42],[6557,0.25],[6547,0.06],[6537,0.36],[6527,0.17],[6517,0.29],[6507,0.4],[6497,0.12],[6487,0.33],[6477,0.2],[6467,0.45],[6457,0.09],[6447,0.27],[6437,0.14],[6427,0.38],[6417,0.2],[6407,0.06],[6397,0.32],[6387,0.14],[6377,0.26],[6367,0.42],[6357,0.1],[6347,0.21],[6337,0.37],[6327,0.13],[6317,0.28],[6307,0.05],[6297,0.33],[6287,0.22],[6277,0.4],[6267,0.11],[6257,0.28],[6247,0.16],[6237,0.44],[6227,0.22],[6217,0.35],[6207,0.07],[6197,0.3],[6187,0.13],[6177,0.43],[6167,0.23],[6157,0.33],[6147,0.09],[6137,0.42],[6127,0.2],[6117,0.13],[6107,0.36],[6097,0.24],[6087,0.1],[6077,0.39],[6067,0.17],[6057,0.3],[6047,0.05],[6037,0.42],[6027,0.22],[6017,0.12],[6007,0.35],[5997,0.18],[5987,0.27],[5977,0.08],[5967,0.4],[5957,0.16],[5947,0.34],[5937,0.24],[5927,0.05],[5917,0.29],[5907,0.19],[5897,0.33],[5887,0.1],[5877,0.45],[5867,0.2],[5857,0.3],[5847,0.15],[5837,0.04],[5827,0.38],[5817,0.28],[5807,0.1],[5797,0.22],[5787,0.18],[5777,0.06],[5767,0.34],[5757,0.27],[5747,0.15],[5737,0.04],[5727,0.31],[5717,0.22],[5707,0.11],[5697,0.2],[5687,0.35],[5677,0.05],[5667,0.14],[5657,0.4],[5647,0.24],[5637,0.02],[5627,0.32],[5617,0.18],[5607,0.25],[5597,0.29],[5587,0.08],[5577,0.2],[5567,0.37],[5557,0.14],[5547,0.05],[5537,0.23],[5527,0.33],[5517,0.16],[5507,0.12],
[5487,0.26],[5463,0.09],[5437,0.32],[5412,0.2],[5388,0.13],[5362,0.29],[5337,0.07],[5312,0.18],[5287,0.25],[5262,0.1],[5237,0.19],[5212,0.05],[5187,0.23],[5162,0.15],[5137,0.1],[5112,0.26],[5087,0.19],[5062,0.05],[5037,0.14],[5012,0.06],[4987,0.2],[4962,0.1],[4937,0.25],[4912,0.04],[4887,0.14],[4862,0.08],[4837,0.22],[4812,0.1],[4787,0.16],[4762,0.04],[4737,0.12],[4712,0.2],[4687,0.07],[4662,0.16],[4637,0.085],[4612,0.25],[4587,0.13],[4562,0.06],[4537,0.15],[4512,0.05],[4487,0.1],[4462,0.06],[4437,0.13],[4412,0.08],[4387,0.05],[4362,0.14],[4337,0.09],[4312,0.06],[4287,0.16],[4262,0.1],[4237,0.05],[4212,0.06],[4187,0.03],[4162,0.1],[4137,0.055],[4112,0.09],[4087,0.045],[4062,0.12],[4037,0.035],[4012,0.05]
];

const teffMin = 4000;
const teffMax = 7000;
const teffStep = 500;
const panelCaptions = ['(a)', '(b)', '(c)', '(d)'];
const yMaxes = [1.0, 0.2, 0.5, 0.6];
const yIntervals = [0.2, 0.05, 0.1, 0.1];
const yMinorSplits = [4, 5, 5, 5];
const yDecimals = [1, 2, 1, 1];
const yNames = [
  '{s|σ}{n|(EW}{sub|CaK}{n|) (Å)}',
  '{s|σ}{n|(EW}{sub|Hα}{n|) (Å)}',
  '{s|σ}{r|(log }{i|R′}{sub|CaK}{r|)}',
  '{s|σ}{r|(log }{i|R′}{sub|Hα}{r|)}',
];
const xName = '{i|T}{sub|eff}{r|(K)}';

const AXIS_COLOR = '#444';
const TEXT_COLOR = '#333';

const rich = {
  s: { fontFamily: 'Liberation Serif', fontStyle: 'italic', fontSize: 13, color: '#222', verticalAlign: 'bottom', lineHeight: 15 },
  i: { fontFamily: 'Liberation Serif', fontStyle: 'italic', fontSize: 13, color: '#222', verticalAlign: 'bottom', lineHeight: 15 },
  r: { fontFamily: 'Liberation Serif', fontSize: 13, color: '#222', verticalAlign: 'bottom', lineHeight: 15 },
  n: { fontFamily: 'Liberation Sans', fontSize: 11, color: '#222', verticalAlign: 'bottom', lineHeight: 15 },
  sub: { fontFamily: 'Liberation Sans', fontSize: 7, fontWeight: 'bold', color: '#222', verticalAlign: 'bottom', lineHeight: 8 },
};

export default function App() {
  const ref = useRef<HTMLDivElement>(null);
  useEffect(() => {
    if (!ref.current) return;
    const chart = echarts.init(ref.current, undefined, { renderer: 'svg' });
    const grids = [
      { left: 37, top: 1, width: 285, height: 302 },
      { left: 403, top: 1, width: 285, height: 302 },
      { left: 37, top: 386, width: 285, height: 301 },
      { left: 403, top: 386, width: 285, height: 301 },
    ];
    const yNameGaps = [22, 36, 22, 36];
    const dataSets = [
      ewCaK.concat(ewCaKMore, ewCaKLow),
      ewHa.concat(ewHaMore),
      logRCaK.concat(logRCaKMore),
      logRHa.concat(logRHaMore),
    ];
    const captionPos = [[160, 355], [527, 355], [160, 744], [527, 744]];

    const tickCommon = (show: boolean) => ({
      axisLine: { show: true, lineStyle: { color: AXIS_COLOR, width: 1 } },
      axisTick: { show: true, inside: true, length: 6, lineStyle: { color: AXIS_COLOR } },
      minorTick: { show: true, length: 3, lineStyle: { color: AXIS_COLOR } },
      splitLine: { show: false },
      axisLabel: {
        show,
        fontFamily: 'Liberation Sans',
        fontSize: 10,
        color: TEXT_COLOR,
        showMinLabel: true,
        showMaxLabel: true,
        hideOverlap: false,
      },
    });

    const xAxes: any[] = [];
    const yAxes: any[] = [];
    grids.forEach((_, gi) => {
      ['bottom', 'top'].forEach((pos, k) => {
        const base = tickCommon(k === 0);
        xAxes.push({
          type: 'value',
          gridIndex: gi,
          position: pos,
          min: teffMin,
          max: teffMax,
          interval: teffStep,
          inverse: true,
          ...base,
          minorTick: { ...base.minorTick, splitNumber: 5 },
          axisLabel: { ...base.axisLabel, margin: 9, formatter: (v: number) => String(Math.round(v)) },
          name: k === 0 ? xName : '',
          nameLocation: 'middle',
          nameGap: 19,
          nameTextStyle: { rich },
        });
      });
      ['left', 'right'].forEach((pos, k) => {
        const base = tickCommon(k === 0);
        const dec = yDecimals[gi];
        yAxes.push({
          type: 'value',
          gridIndex: gi,
          position: pos,
          min: 0,
          max: yMaxes[gi],
          interval: yIntervals[gi],
          ...base,
          minorTick: { ...base.minorTick, splitNumber: yMinorSplits[gi] },
          axisLabel: { ...base.axisLabel, margin: 4, formatter: (v: number) => v.toFixed(dec) },
          name: k === 0 ? yNames[gi] : '',
          nameLocation: 'middle',
          nameGap: yNameGaps[gi],
          nameRotate: 90,
          nameTextStyle: { rich },
        });
      });
    });

    const series = dataSets.map((d, gi) => ({
      type: 'scatter',
      xAxisIndex: gi * 2,
      yAxisIndex: gi * 2,
      data: d,
      symbol: 'circle',
      symbolSize: 2.8,
      itemStyle: { color: '#000', opacity: 1 },
      silent: true,
    }));

    chart.setOption({
      animation: false,
      backgroundColor: '#fff',
      grid: grids,
      xAxis: xAxes,
      yAxis: yAxes,
      series,
      graphic: panelCaptions.map((c, i) => ({
        type: 'text',
        x: captionPos[i][0],
        y: captionPos[i][1],
        style: {
          text: c,
          font: '16px "Liberation Serif"',
          fill: '#111',
          align: 'center',
          verticalAlign: 'middle',
        },
      })),
    });
    return () => chart.dispose();
  }, []);
  return (
    <div
      ref={ref}
      style={{ position: 'fixed', left: 0, top: 0, width: 700, height: 752, background: '#fff' }}
    />
  );
}
